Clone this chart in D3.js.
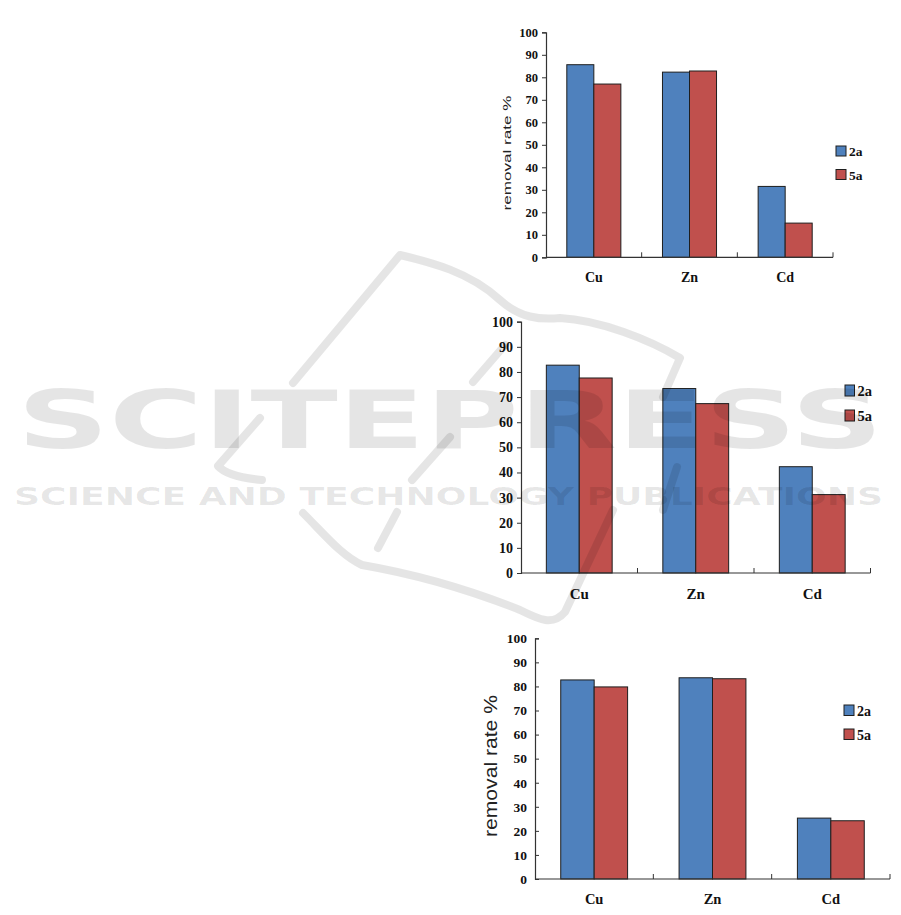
<!DOCTYPE html>
<html>
<head>
<meta charset="utf-8">
<script src="https://cdn.jsdelivr.net/npm/d3@7"></script>
<style>
  html, body { margin: 0; padding: 0; background: #fff; }
  svg { display: block; }
</style>
</head>
<body>
<svg id="fig" width="901" height="915"></svg>
<script>
// ---- data ----
const categories = ["Cu", "Zn", "Cd"];
const seriesNames = ["2a", "5a"];
const yTickValues = [0, 10, 20, 30, 40, 50, 60, 70, 80, 90, 100];
const yAxisTitle = "removal rate %";

const chartA_2a = [85.6, 82.3, 31.5];
const chartA_5a = [77.0, 82.8, 15.2];
const chartB_2a = [82.7, 73.4, 42.3];
const chartB_5a = [77.6, 67.4, 31.2];
const chartC_2a = [82.7, 83.6, 25.3];
const chartC_5a = [79.8, 83.2, 24.2];

const seriesColors = ["#4F81BD", "#C0504D"];

const svg = d3.select("#fig");
svg.append("rect").attr("width", 901).attr("height", 915).attr("fill", "#fff");

const serifFont = "'Liberation Serif', 'Times New Roman', Times, serif";

function drawChart(cfg) {
  const g = svg.append("g");
  const x0 = d3.scaleBand().domain(categories).range([cfg.left, cfg.right]).paddingInner(0).paddingOuter(0);
  const x1 = d3.scaleBand().domain(seriesNames).range([0, x0.bandwidth()]).paddingInner(0).paddingOuter(0.77);
  const y = d3.scaleLinear().domain([0, 100]).range([cfg.bottom, cfg.top]);

  const rows = categories.map((c, i) => ({ cat: c, vals: [cfg.s1[i], cfg.s2[i]] }));

  rows.forEach(r => {
    r.vals.forEach((v, j) => {
      g.append("rect")
        .attr("x", x0(r.cat) + x1(seriesNames[j]))
        .attr("y", y(v))
        .attr("width", x1.bandwidth())
        .attr("height", y(0) - y(v))
        .attr("fill", seriesColors[j])
        .attr("stroke", "#1e1e1e")
        .attr("stroke-width", 1);
    });
  });

  const yAxis = d3.axisLeft(y).tickValues(yTickValues).tickSizeOuter(0)
    .tickSize(cfg.tickInside ? -4 : 4).tickPadding(cfg.tickInside ? 8 : 4);
  const ya = g.append("g").attr("transform", `translate(${cfg.left},0)`).call(yAxis);
  ya.attr("font-family", serifFont);
  ya.select(".domain").attr("stroke", "#333").attr("stroke-width", 1.2);
  ya.selectAll(".tick line").attr("stroke", "#333");
  ya.selectAll(".tick text")
    .attr("font-family", serifFont)
    .attr("font-weight", "bold")
    .attr("font-size", cfg.tickFont)
    .attr("fill", "#111");

  const xAxis = d3.axisBottom(x0).tickSize(0).tickPadding(cfg.catPad);
  const xa = g.append("g").attr("transform", `translate(0,${cfg.bottom})`).call(xAxis);
  xa.attr("font-family", serifFont);
  xa.select(".domain").remove();
  xa.selectAll(".tick text")
    .attr("font-family", serifFont)
    .attr("font-weight", "bold")
    .attr("font-size", cfg.catFont)
    .attr("fill", "#111");
  g.append("line")
    .attr("x1", cfg.left).attr("x2", cfg.right)
    .attr("y1", cfg.bottom).attr("y2", cfg.bottom)
    .attr("stroke", "#333").attr("stroke-width", 1.2);
  categories.forEach((c, i) => {
    if (i === 0) return;
    g.append("line")
      .attr("x1", x0(c)).attr("x2", x0(c))
      .attr("y1", cfg.bottom).attr("y2", cfg.bottom - 5)
      .attr("stroke", "#333");
  });
  g.append("line")
    .attr("x1", cfg.right).attr("x2", cfg.right)
    .attr("y1", cfg.bottom).attr("y2", cfg.bottom - 5)
    .attr("stroke", "#333");

  if (cfg.title) {
    g.append("text")
      .attr("transform", `translate(${cfg.title.x},${cfg.title.y}) rotate(-90)`)
      .attr("text-anchor", "middle")
      .attr("font-family", "'Liberation Sans', Arial, sans-serif")
      .attr("font-size", cfg.title.size)
      .attr("fill", "#222")
      .attr("textLength", cfg.title.len)
      .attr("lengthAdjust", "spacingAndGlyphs")
      .text(yAxisTitle);
  }

  seriesNames.forEach((s, j) => {
    const ly = cfg.legend.y + j * cfg.legend.gap;
    g.append("rect")
      .attr("x", cfg.legend.x).attr("y", ly)
      .attr("width", cfg.legend.w).attr("height", cfg.legend.h)
      .attr("fill", seriesColors[j])
      .attr("stroke", "#1e1e1e").attr("stroke-width", 1);
    g.append("text")
      .attr("x", cfg.legend.x + cfg.legend.w + 3)
      .attr("y", ly + cfg.legend.h)
      .attr("font-family", serifFont)
      .attr("font-weight", "bold")
      .attr("font-size", cfg.legend.font)
      .attr("fill", "#111")
      .text(s);
  });
}

drawChart({
  left: 546, right: 833, top: 32.3, bottom: 257.3,
  s1: chartA_2a, s2: chartA_5a,
  tickFont: 12.5, catFont: 14, catPad: 14.4, tickInside: false,
  title: { x: 510.5, y: 153, size: 11, len: 115 },
  legend: { x: 836, y: 146, w: 10, h: 10, gap: 23.5, font: 13.5 }
});

drawChart({
  left: 521, right: 870.5, top: 321.7, bottom: 573,
  s1: chartB_2a, s2: chartB_5a,
  tickFont: 14, catFont: 15, catPad: 15.6, tickInside: false,
  title: null,
  legend: { x: 845, y: 385, w: 9.5, h: 11, gap: 25, font: 14.5 }
});

drawChart({
  left: 535, right: 890, top: 638.3, bottom: 879,
  s1: chartC_2a, s2: chartC_5a,
  tickFont: 13.5, catFont: 14.5, catPad: 14.7, tickInside: true,
  title: { x: 496.5, y: 766, size: 18, len: 142 },
  legend: { x: 844, y: 705, w: 10, h: 10.5, gap: 24, font: 14 }
});

// ---- watermark (semi-transparent, on top, as in the reference) ----
const wm = svg.append("g").attr("pointer-events", "none");
const wmOpacity = 0.1;
const logoPaths = [
  "M293,383 L400,255 C430,262 470,272 500,300 C520,318 540,320 560,318 C600,320 650,340 680,358 L663,397",
  "M473,382 L505,345",
  "M260,418 L218,466 C225,474 240,478 262,480",
  "M450,437 L412,480",
  "M303,513 C325,535 342,556 362,565 C420,575 470,590 520,610 C540,620 553,626 565,612 L613,510",
  "M397,512 L378,548",
  "M677,467 L663,510"
];
logoPaths.forEach(d => {
  wm.append("path").attr("d", d)
    .attr("fill", "none").attr("stroke", "#000")
    .attr("stroke-opacity", wmOpacity).attr("stroke-width", 8)
    .attr("stroke-linecap", "round").attr("stroke-linejoin", "round");
});
wm.append("text")
  .attr("x", 17).attr("y", 448)
  .attr("font-family", "'DejaVu Sans', sans-serif")
  .attr("font-weight", "bold")
  .attr("font-size", 80)
  .attr("textLength", 866).attr("lengthAdjust", "spacingAndGlyphs")
  .attr("fill", "#000").attr("fill-opacity", wmOpacity)
  .text("SCITEPRESS");
wm.append("text")
  .attr("x", 14).attr("y", 505)
  .attr("font-family", "'DejaVu Sans', sans-serif")
  .attr("font-weight", "bold")
  .attr("font-size", 25)
  .attr("textLength", 869).attr("lengthAdjust", "spacingAndGlyphs")
  .attr("fill", "#000").attr("fill-opacity", wmOpacity)
  .text("SCIENCE AND TECHNOLOGY PUBLICATIONS");
</script>
</body>
</html>
